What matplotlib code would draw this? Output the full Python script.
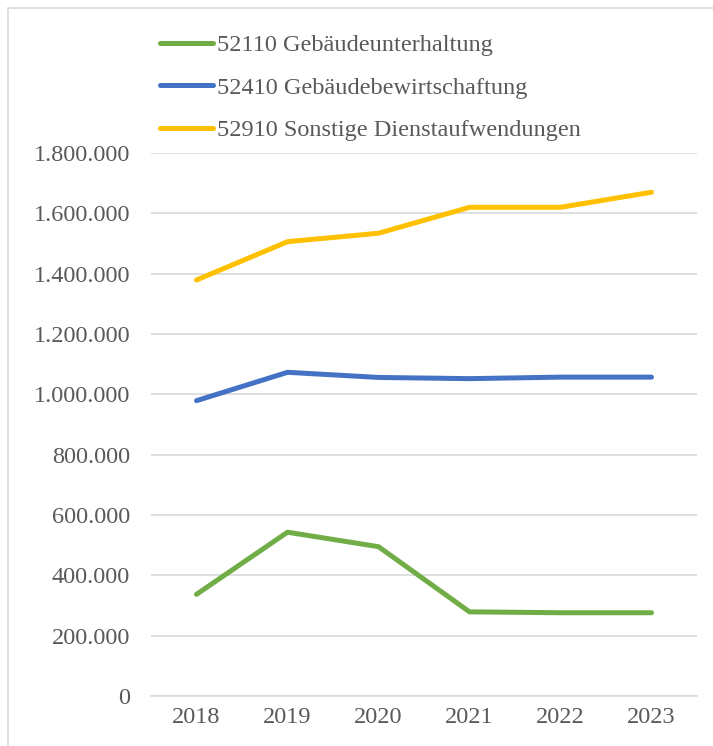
import matplotlib
matplotlib.use("Agg")
import matplotlib.pyplot as plt
from matplotlib.patches import Rectangle
from matplotlib.ticker import FuncFormatter

years = ["2018", "2019", "2020", "2021", "2022", "2023"]
unterhaltung = [337000, 543000, 495000, 279000, 276000, 276000]
bewirtschaftung = [979000, 1073000, 1056000, 1052000, 1057000, 1057000]
sonstige = [1379000, 1506000, 1534000, 1620000, 1620000, 1670000]

labels = ["52110 Gebäudeunterhaltung",
          "52410 Gebäudebewirtschaftung",
          "52910 Sonstige Dienstaufwendungen"]
colors = ["#70AD47", "#4472C4", "#FFC000"]

plt.rcParams["font.family"] = ["Liberation Serif", "DejaVu Serif"]

W, H = 713, 746
fig = plt.figure(figsize=(W / 100, H / 100), dpi=100)

# light frame around the chart area
fig.patches.append(Rectangle((8 / W, -0.01), 1.1, 1 - 8 / H + 0.01,
                             transform=fig.transFigure, fill=False,
                             edgecolor="#D9D9D9", linewidth=1.2))

ax = fig.add_axes([151 / W, 1 - 696 / H, 546 / W, (696 - 153) / H])

x = list(range(len(years)))
for vals, lab, col in zip([unterhaltung, bewirtschaftung, sonstige], labels, colors):
    ax.plot(x, vals, color=col, linewidth=3.6, label=lab,
            solid_capstyle="round", solid_joinstyle="round")

ax.set_xlim(-0.5, len(years) - 0.5)
ax.set_ylim(0, 1800000)
ax.set_yticks(range(0, 1800001, 200000))
ax.yaxis.set_major_formatter(FuncFormatter(lambda v, p: f"{int(v):,}".replace(",", ".")))
ax.set_xticks(x)
ax.set_xticklabels(years)

ax.grid(axis="y", color="#D9D9D9", linewidth=1.2)
ax.set_axisbelow(True)
for s in ["left", "right", "top"]:
    ax.spines[s].set_visible(False)
ax.spines["bottom"].set_color("#D9D9D9")
ax.spines["bottom"].set_linewidth(1.2)
ax.tick_params(length=0, colors="#595959", labelsize=17.5)
ax.tick_params(axis="y", pad=15)
ax.tick_params(axis="x", pad=8)

fig.legend(loc="upper left", bbox_to_anchor=(160 / W, 1 - 34 / H),
           frameon=False, borderpad=0, borderaxespad=0,
           handlelength=2.2, handletextpad=0.15, labelspacing=0.85,
           prop={"size": 17.5}, labelcolor="#595959")

fig.savefig("out.png", dpi=100)
